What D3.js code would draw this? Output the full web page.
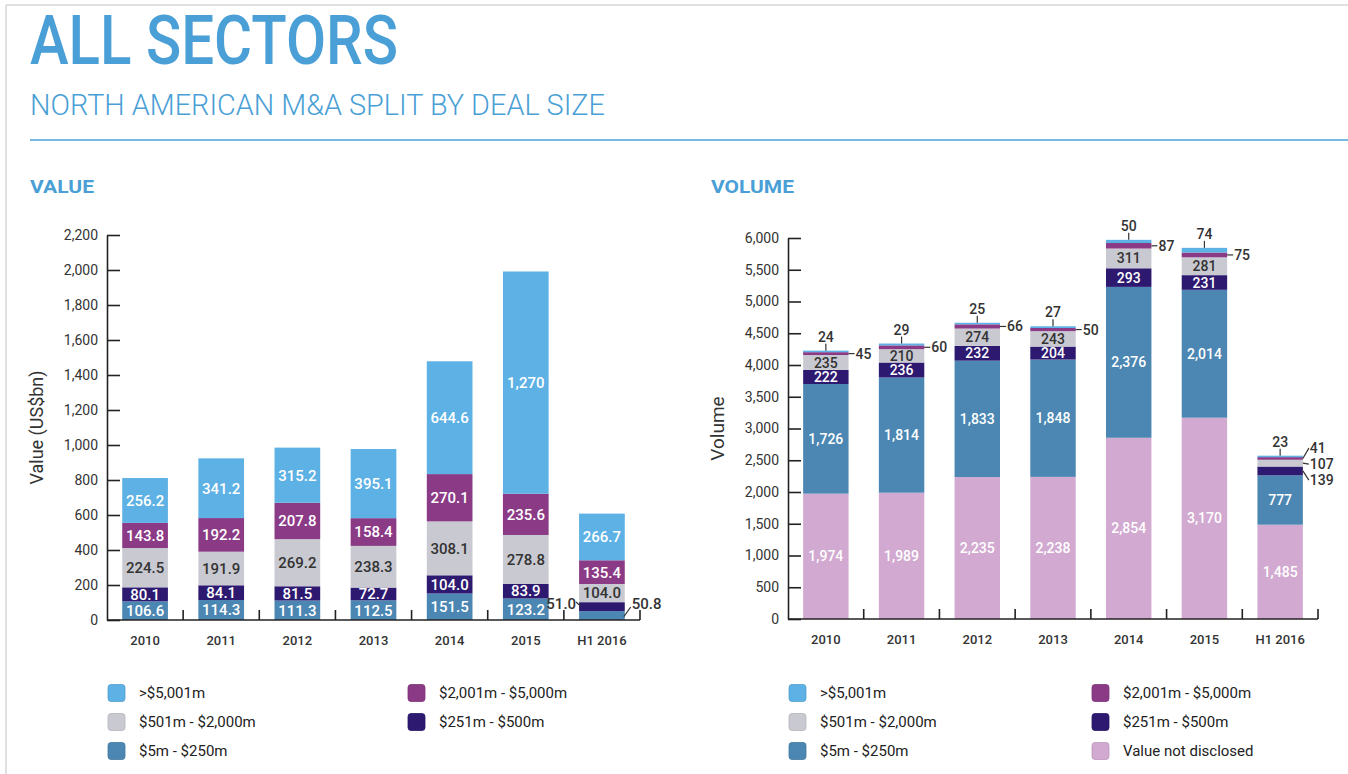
<!DOCTYPE html>
<html>
<head>
<meta charset="utf-8">
<script src="https://cdn.jsdelivr.net/npm/d3@7"></script>
<style>
  body { margin: 0; background: #fff; }
  svg { font-family: Roboto, "Noto Sans", sans-serif; }
</style>
</head>
<body>
<svg id="chart" width="1348" height="774"></svg>
<script>
// categories
const years = ["2010", "2011", "2012", "2013", "2014", "2015", "H1 2016"];

// value (US$bn) by deal size
const valSmall = [106.6, 114.3, 111.3, 112.5, 151.5, 123.2, 50.8];   // $5m - $250m
const valLower = [80.1, 84.1, 81.5, 72.7, 104.0, 83.9, 51.0];        // $251m - $500m
const valMid   = [224.5, 191.9, 269.2, 238.3, 308.1, 278.8, 104.0];  // $501m - $2,000m
const valUpper = [143.8, 192.2, 207.8, 158.4, 270.1, 235.6, 135.4];  // $2,001m - $5,000m
const valMega  = [256.2, 341.2, 315.2, 395.1, 644.6, 1270, 266.7];   // >$5,001m

// volume (deal count) by deal size
const volUndisclosed = [1974, 1989, 2235, 2238, 2854, 3170, 1485];
const volSmall = [1726, 1814, 1833, 1848, 2376, 2014, 777];
const volLower = [222, 236, 232, 204, 293, 231, 139];
const volMid   = [235, 210, 274, 243, 311, 281, 107];
const volUpper = [45, 60, 66, 50, 87, 75, 41];
const volMega  = [24, 29, 25, 27, 50, 74, 23];

// axis ticks
const valueTicks = [0, 200, 400, 600, 800, 1000, 1200, 1400, 1600, 1800, 2000, 2200];
const volumeTicks = [0, 500, 1000, 1500, 2000, 2500, 3000, 3500, 4000, 4500, 5000, 5500, 6000];

const seriesNames = {
    mega: ">$5,001m",
    upper: "$2,001m - $5,000m",
    mid: "$501m - $2,000m",
    lower: "$251m - $500m",
    small: "$5m - $250m",
    undisclosed: "Value not disclosed"
};
const colors = {
    mega: "#5db1e4",
    upper: "#8b3a86",
    mid: "#c9c9d1",
    lower: "#2d1a70",
    small: "#4b87b2",
    undisclosed: "#d2a9d0"
};
const labelColors = { mid: "#333" };
const blue = "#4a9fd6";

let svg = d3.select("#chart");

// frame
svg.append("line").attr("x1", 6).attr("x2", 6).attr("y1", 5).attr("y2", 774)
    .attr("stroke", "#d6d6d6").attr("stroke-width", 1.5);
svg.append("line").attr("x1", 6).attr("x2", 1348).attr("y1", 5).attr("y2", 5)
    .attr("stroke", "#d6d6d6").attr("stroke-width", 1.5);

// titles
svg.append("text").attr("x", 30).attr("y", 64)
    .attr("font-size", 68).attr("font-weight", 500).attr("fill", blue)
    .attr("textLength", 368).attr("lengthAdjust", "spacingAndGlyphs")
    .text("ALL SECTORS");
svg.append("text").attr("x", 30).attr("y", 115)
    .attr("font-size", 30).attr("font-weight", 300).attr("fill", blue)
    .attr("textLength", 575).attr("lengthAdjust", "spacingAndGlyphs")
    .text("NORTH AMERICAN M&A SPLIT BY DEAL SIZE");
svg.append("line").attr("x1", 30).attr("x2", 1348).attr("y1", 140).attr("y2", 140)
    .attr("stroke", blue).attr("stroke-width", 1.5);

function drawChart(cfg) {
    let g = svg.append("g");

    g.append("text").attr("x", cfg.titleX).attr("y", 193)
        .attr("font-size", 19).attr("font-weight", 700).attr("fill", blue)
        .attr("textLength", cfg.titleLen).attr("lengthAdjust", "spacingAndGlyphs")
        .text(cfg.title);

    let x = d3.scaleBand().domain(years).range(cfg.xRange)
        .paddingInner(0.4).paddingOuter(0.2);
    let y = d3.scaleLinear().domain([0, d3.max(cfg.ticks)]).range(cfg.yRange);

    let rows = years.map((yr, i) => {
        let r = { year: yr };
        cfg.keys.forEach(k => r[k] = cfg.series[k][i]);
        return r;
    });
    let stacked = d3.stack().keys(cfg.keys)(rows);

    // bars
    let layers = g.append("g").selectAll("g")
        .data(stacked).enter().append("g")
        .attr("fill", d => colors[d.key]);
    layers.selectAll("rect")
        .data(d => d).enter().append("rect")
        .attr("x", d => x(d.data.year))
        .attr("y", d => y(d[1]))
        .attr("width", x.bandwidth())
        .attr("height", d => y(d[0]) - y(d[1]));

    // y axis
    let yAxis = g.append("g")
        .attr("transform", "translate(" + cfg.xRange[0] + ",0)")
        .call(d3.axisLeft(y).tickValues(cfg.ticks)
            .tickSizeInner(-13).tickSizeOuter(0).tickPadding(9)
            .tickFormat(d3.format(",")));
    yAxis.select(".domain").attr("stroke", "#222").attr("stroke-width", 1.6);
    yAxis.selectAll(".tick line").attr("stroke", "#222").attr("stroke-width", 1.6);
    yAxis.selectAll(".tick text").attr("font-size", 14).attr("fill", "#333")
        .attr("font-family", "Roboto");

    // x axis
    let y0 = y(0);
    g.append("line").attr("x1", cfg.xRange[0]).attr("x2", cfg.xRange[1])
        .attr("y1", y0).attr("y2", y0).attr("stroke", "#222").attr("stroke-width", 1.6);
    g.append("g").selectAll("line")
        .data(d3.range(1, years.length + 1)).enter().append("line")
        .attr("x1", i => cfg.xRange[0] + i * x.step())
        .attr("x2", i => cfg.xRange[0] + i * x.step())
        .attr("y1", y0).attr("y2", y0 - 10)
        .attr("stroke", "#222").attr("stroke-width", 1.6);
    g.append("g").selectAll("text")
        .data(years).enter().append("text")
        .attr("x", d => x(d) + x.bandwidth() / 2)
        .attr("y", y0 + 20).attr("dy", "0.35em")
        .attr("text-anchor", "middle").attr("font-size", 13).attr("font-weight", 500)
        .attr("fill", "#333")
        .text(d => d);

    // axis title
    g.append("text")
        .attr("transform", "translate(" + cfg.axisTitleX + "," + (cfg.yRange[0] + cfg.yRange[1]) / 2 + ") rotate(-90)")
        .attr("text-anchor", "middle").attr("dy", "0.35em")
        .attr("font-size", cfg.axisTitleSize).attr("fill", "#333")
        .text(cfg.axisTitle);

    // segment labels
    let labels = g.append("g").attr("font-size", cfg.labelSize).attr("font-weight", 500);
    let topKey = cfg.keys[cfg.keys.length - 1];
    years.forEach((yr, i) => {
        let bx = x(yr), bw = x.bandwidth(), cx = bx + bw / 2;
        let sideRight = [];
        let outsideCount = 0;
        stacked.forEach(layer => {
            let d = layer[i];
            let v = d.data[layer.key];
            let top = y(d[1]), bot = y(d[0]);
            let h = bot - top;
            let mid = (top + bot) / 2;
            let txt = cfg.format(v);
            if (h >= 12) {
                labels.append("text").attr("x", cx).attr("y", mid).attr("dy", "0.36em")
                    .attr("text-anchor", "middle")
                    .attr("fill", labelColors[layer.key] || "#fff")
                    .text(txt);
            } else if (cfg.outside === "alternate") {
                let ly = Math.min(mid, y0 - 16);
                if (outsideCount % 2 === 0) {
                    labels.append("text").attr("x", bx + bw + 7).attr("y", ly).attr("dy", "0.36em")
                        .attr("fill", "#333").text(txt);
                    labels.append("line").attr("x1", bx + bw - 1).attr("y1", mid + 1)
                        .attr("x2", bx + bw + 6).attr("y2", ly + 3)
                        .attr("stroke", "#333").attr("stroke-width", 1.2);
                } else {
                    labels.append("text").attr("x", bx - 3).attr("y", ly).attr("dy", "0.36em")
                        .attr("text-anchor", "end").attr("fill", "#333").text(txt);
                    labels.append("line").attr("x1", bx - 3).attr("y1", ly - 2)
                        .attr("x2", bx + 2).attr("y2", mid)
                        .attr("stroke", "#333").attr("stroke-width", 1.2);
                }
                outsideCount++;
            } else if (layer.key === topKey) {
                labels.append("line").attr("x1", cx).attr("x2", cx)
                    .attr("y1", top).attr("y2", top - 7)
                    .attr("stroke", "#333").attr("stroke-width", 1.2);
                labels.append("text").attr("x", cx).attr("y", top - 9)
                    .attr("text-anchor", "middle").attr("fill", "#333").text(txt);
            } else {
                sideRight.push({ mid: mid, txt: txt });
            }
        });
        // spread the right-hand labels so they do not collide
        if (sideRight.length) {
            sideRight.sort((a, b) => a.mid - b.mid);
            let gap = 16;
            let mean = d3.mean(sideRight, d => d.mid);
            let start = mean - gap * (sideRight.length - 1) / 2;
            sideRight.forEach((d, j) => {
                let ly = start + j * gap;
                labels.append("line").attr("x1", bx + bw).attr("y1", d.mid)
                    .attr("x2", bx + bw + 6).attr("y2", ly)
                    .attr("stroke", "#333").attr("stroke-width", 1.2);
                labels.append("text").attr("x", bx + bw + 7).attr("y", ly).attr("dy", "0.36em")
                    .attr("fill", "#333").text(d.txt);
            });
        }
    });

    // legend
    let legend = g.append("g");
    cfg.legend.forEach((k, j) => {
        let col = j % 2, row = Math.floor(j / 2);
        let lx = cfg.legendX[col], ly = 693 + row * 29;
        legend.append("rect").attr("x", lx).attr("y", ly - 8.5)
            .attr("width", 17).attr("height", 17).attr("rx", 3)
            .attr("fill", colors[k]).attr("stroke", d3.color(colors[k]).darker(0.3))
            .attr("stroke-width", 0.8);
        legend.append("text").attr("x", lx + 31).attr("y", ly).attr("dy", "0.35em")
            .attr("font-size", 15).attr("fill", "#222")
            .text(seriesNames[k]);
    });
}

drawChart({
    title: "VALUE", titleX: 30, titleLen: 64,
    xRange: [107, 640], yRange: [620, 235],
    ticks: valueTicks,
    keys: ["small", "lower", "mid", "upper", "mega"],
    series: { small: valSmall, lower: valLower, mid: valMid, upper: valUpper, mega: valMega },
    format: v => v >= 1000 ? d3.format(",")(v) : d3.format(".1f")(v),
    labelSize: 15,
    outside: "alternate",
    axisTitle: "Value (US$bn)", axisTitleX: 37, axisTitleSize: 18,
    legend: ["mega", "upper", "mid", "lower", "small"],
    legendX: [108, 408]
});

drawChart({
    title: "VOLUME", titleX: 711, titleLen: 83,
    xRange: [788, 1318], yRange: [619, 238],
    ticks: volumeTicks,
    keys: ["undisclosed", "small", "lower", "mid", "upper", "mega"],
    series: { undisclosed: volUndisclosed, small: volSmall, lower: volLower, mid: volMid, upper: volUpper, mega: volMega },
    format: d3.format(","),
    labelSize: 14,
    outside: "right",
    axisTitle: "Volume", axisTitleX: 717, axisTitleSize: 19,
    legend: ["mega", "upper", "mid", "lower", "small", "undisclosed"],
    legendX: [789, 1092]
});
</script>
</body>
</html>
